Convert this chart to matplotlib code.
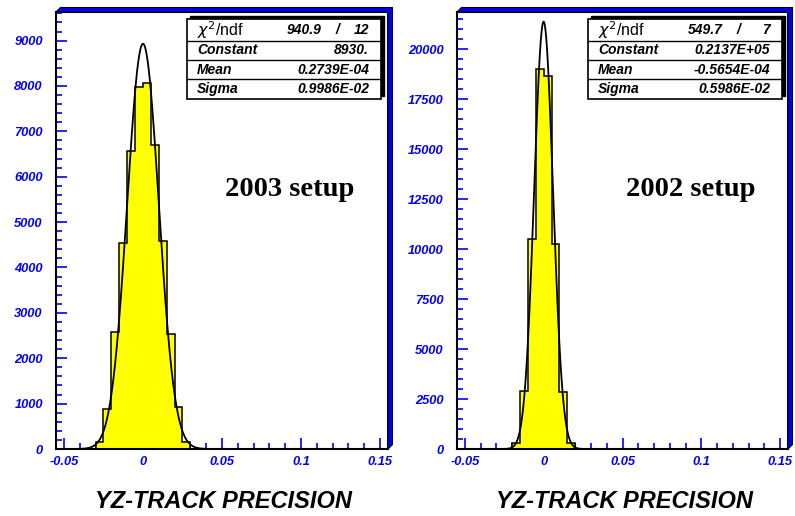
import numpy as np
import matplotlib
matplotlib.use("Agg")
import matplotlib.pyplot as plt
from matplotlib.patches import Rectangle, Polygon
from matplotlib.ticker import MultipleLocator, FixedLocator

# ---- data ----
edges_2003 = [-0.030, -0.025, -0.020, -0.015, -0.010, -0.005, 0.000,
              0.005, 0.010, 0.015, 0.020, 0.025, 0.030]
counts_2003 = [160, 875, 2585, 4545, 6565, 7980, 8075, 6710, 4590, 2535, 920, 160]

edges_2002 = [-0.020, -0.015, -0.010, -0.005, 0.000, 0.005, 0.010, 0.015, 0.020]
counts_2002 = [285, 2915, 10485, 19000, 18665, 10235, 2835, 285]

# fit results printed in the stat boxes
fit_2003 = {"chi2": "940.9", "ndf": "12", "const": 8930., "mean": 0.2739e-04, "sigma": 0.9986e-02,
            "const_s": "8930.", "mean_s": "0.2739E-04", "sigma_s": "0.9986E-02"}
fit_2002 = {"chi2": "549.7", "ndf": "7", "const": 0.2137e+05, "mean": -0.5654e-04, "sigma": 0.5986e-02,
            "const_s": "0.2137E+05", "mean_s": "-0.5654E-04", "sigma_s": "0.5986E-02"}

xticks = [-0.05, 0, 0.05, 0.1, 0.15]
xtick_labels = ["-0.05", "0", "0.05", "0.1", "0.15"]
yticks_2003 = [0, 1000, 2000, 3000, 4000, 5000, 6000, 7000, 8000, 9000]
yticks_2002 = [0, 2500, 5000, 7500, 10000, 12500, 15000, 17500, 20000]

W, H = 795, 516
BLUE = "#0000ff"
SANS = "Liberation Sans"


def px(x, y):
    # pixel position (from top-left) -> figure fraction
    return x / W, 1 - y / H


fig = plt.figure(figsize=(W / 100, H / 100), dpi=100)


def make_panel(x0, x1, edges, counts, fit, yticks, yminor, ymax, label):
    ax = fig.add_axes([x0 / W, 1 - 449 / H, (x1 - x0) / W, (449 - 12) / H])
    ax.set_xlim(-0.055, 0.155)
    ax.set_ylim(0, ymax)

    ax.stairs(counts, edges, fill=True, color="#ffff00", zorder=2)
    ax.stairs(counts, edges, baseline=0, color="black", lw=1.1, zorder=3)
    xs = np.linspace(-0.055, 0.155, 2000)
    ys = fit["const"] * np.exp(-0.5 * ((xs - fit["mean"]) / fit["sigma"]) ** 2)
    ax.plot(xs, ys, color="black", lw=1.3, zorder=4)

    ax.xaxis.set_major_locator(FixedLocator(xticks))
    ax.set_xticklabels(xtick_labels)
    ax.xaxis.set_minor_locator(MultipleLocator(0.01))
    ax.yaxis.set_major_locator(FixedLocator(yticks))
    ax.set_yticklabels([str(v) for v in yticks])
    ax.yaxis.set_minor_locator(MultipleLocator(yminor))
    ax.tick_params(which="both", direction="in", color=BLUE, width=1.2,
                   top=False, right=False)
    ax.tick_params(which="major", length=8)
    ax.tick_params(which="minor", length=4.5)
    ax.tick_params(axis="y", pad=9.5)
    ax.tick_params(axis="x", pad=5)
    for t in ax.get_xticklabels() + ax.get_yticklabels():
        t.set_fontfamily(SANS)
        t.set_fontweight("bold")
        t.set_fontstyle("italic")
        t.set_fontsize(9.3)
        t.set_color(BLUE)
    for s in ax.spines.values():
        s.set_linewidth(1.5)
        s.set_color("black")

    # blue 3D shadow on top and right side of the frame
    dx, dy = 4.5 / (x1 - x0), 4.5 / 437
    shadow = Polygon([(0, 1), (dx, 1 + dy), (1 + dx, 1 + dy), (1 + dx, dy), (1, 0), (1, 1)],
                     closed=True, transform=ax.transAxes, facecolor=BLUE,
                     edgecolor="black", lw=0.8, clip_on=False, zorder=5)
    ax.add_patch(shadow)

    # stat box
    bx0, bx1 = x0 + 131, x0 + 325
    fig.patches.append(Rectangle(px(bx0 + 3, 96), (bx1 - bx0) / W, 80 / H,
                                 transform=fig.transFigure, facecolor="black",
                                 edgecolor="black", zorder=6))
    fig.patches.append(Rectangle(px(bx0, 99), (bx1 - bx0) / W, 80 / H,
                                 transform=fig.transFigure, facecolor="white",
                                 edgecolor="black", lw=1.2, zorder=7))
    for yl in (41, 60, 79):
        fig.add_artist(plt.Line2D([bx0 / W, bx1 / W], [1 - yl / H, 1 - yl / H],
                                  transform=fig.transFigure, color="black", lw=1.0, zorder=8))
    tx = bx0 + 10
    vx = bx1 - 12
    bold = dict(fontfamily=SANS, fontweight="bold", fontstyle="italic", fontsize=10,
                va="center", transform=fig.transFigure, zorder=9)
    fig.text(*px(tx, 30), r"$\chi^2$/ndf", fontfamily=SANS, fontsize=11.5,
             va="center", zorder=9, math_fontfamily="dejavusans")
    fig.text(*px(vx - 47, 30), fit["chi2"], ha="right", **bold)
    fig.text(*px(vx - 32, 30), "/", ha="center", **bold)
    fig.text(*px(vx, 30), fit["ndf"], ha="right", **bold)
    rows = [("Constant", fit["const_s"], 50.5), ("Mean", fit["mean_s"], 69.5),
            ("Sigma", fit["sigma_s"], 89)]
    for name, val, yy in rows:
        fig.text(*px(tx, yy), name, ha="left", **bold)
        fig.text(*px(vx, yy), val, ha="right", **bold)

    # annotation and axis title
    fig.text(*px(x0 + 234, 190), label, fontfamily="Liberation Serif", fontweight="bold",
             fontsize=20.5, ha="center", va="center")
    fig.text(*px(x0 + 167, 502), "YZ-TRACK PRECISION", fontfamily=SANS, fontweight="bold",
             fontstyle="italic", fontsize=17, ha="center", va="center")
    return ax


make_panel(56, 388, edges_2003, counts_2003, fit_2003, yticks_2003, 200, 9630, "2003 setup")
make_panel(457, 788, edges_2002, counts_2002, fit_2002, yticks_2002, 500, 21850, "2002 setup")

fig.savefig("out.png", dpi=100)
